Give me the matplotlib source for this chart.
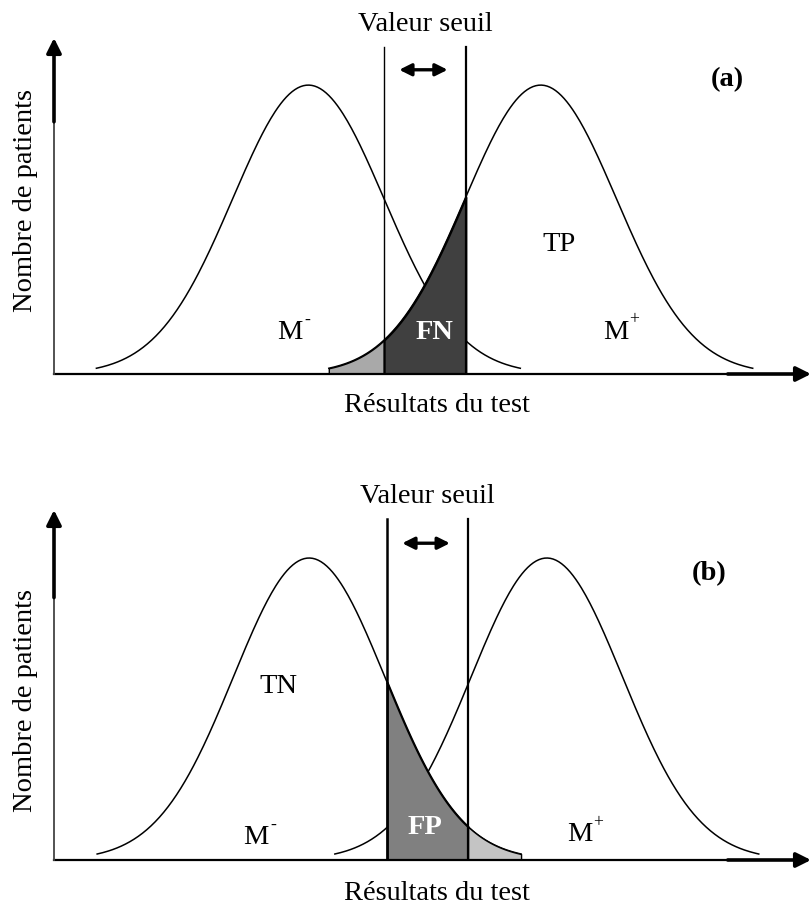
import numpy as np
import matplotlib
matplotlib.use("Agg")
from matplotlib import pyplot as plt

plt.rcParams['font.family'] = ['Liberation Serif', 'DejaVu Serif']

# test result scale (x: 0..10), curve peak = 1
sigma = 1.0
half_span = 2.8
means_a = [3.36, 6.43]          # M-, M+
means_b = [3.37, 6.51]
seuil_a = [4.36, 5.44]          # two threshold positions
seuil_b = [4.40, 5.47]
ytop_a = 1.163
ytop_b = 1.159

labels_a = ['M-', 'FN', 'TP', 'M+']
label_pos_a = [(3.12, 0.142), (5.03, 0.142), (6.67, 0.447), (7.42, 0.145)]
labels_b = ['TN', 'M-', 'FP', 'M+']
label_pos_b = [(2.97, 0.573), (2.67, 0.073), (4.90, 0.109), (6.94, 0.083)]

FS = 20.5


def gauss(x, mu):
    return np.exp(-(x - mu) ** 2 / (2 * sigma ** 2))


def draw_axes(ax, ytop):
    # x axis: thin then thick near the arrow
    ax.plot([0, 8.9], [0, 0], color='black', lw=1.6, clip_on=False, zorder=5)
    ax.annotate('', xy=(10.0, 0), xytext=(8.9, 0),
                arrowprops=dict(arrowstyle='-|>', color='black', lw=2.6,
                                mutation_scale=22, shrinkA=0, shrinkB=0),
                annotation_clip=False, zorder=5)
    # y axis
    ax.plot([0, 0], [0, ytop - 0.29], color='#444444', lw=1.3, clip_on=False, zorder=5)
    ax.annotate('', xy=(0, ytop), xytext=(0, ytop - 0.29),
                arrowprops=dict(arrowstyle='-|>', color='black', lw=2.6,
                                mutation_scale=22, shrinkA=0, shrinkB=0),
                annotation_clip=False, zorder=5)


def draw_common(ax, means, seuil, ytop, lw_left):
    for mu in means:
        x = np.linspace(mu - half_span, mu + half_span, 300)
        ax.plot(x, gauss(x, mu), color='black', lw=1.1, zorder=2)
    line_top = ytop - 0.031
    ax.plot([seuil[0], seuil[0]], [0, line_top], color='black', lw=lw_left, zorder=4)
    ax.plot([seuil[1], seuil[1]], [0, line_top], color='black', lw=1.6, zorder=4)
    ax.annotate('', xy=(seuil[0] + 0.2, ytop - 0.11), xytext=(seuil[1] - 0.24, ytop - 0.11),
                arrowprops=dict(arrowstyle='<|-|>', color='black', lw=2.4,
                                mutation_scale=18, shrinkA=0, shrinkB=0))
    ax.text(np.mean(seuil), ytop + 0.045, 'Valeur seuil', ha='center', va='center',
            fontsize=FS, clip_on=False)
    ax.text(5.06, -0.11, 'Résultats du test', ha='center', va='center', fontsize=FS,
            clip_on=False)
    ax.set_xlim(0, 10)
    ax.set_ylim(0, ytop)
    ax.axis('off')


def put_labels(ax, labels, positions):
    for t, (x, y) in zip(labels, positions):
        if t.startswith('F'):
            ax.text(x, y, t, ha='center', va='center', fontsize=FS,
                    color='white', fontweight='bold', zorder=6)
        elif t[-1] in '+-':
            ax.text(x, y, t[0], ha='center', va='center', fontsize=FS, zorder=6)
            ax.annotate(t[-1], xy=(x, y), xytext=(10, 9), textcoords='offset points',
                        ha='left', va='center', fontsize=FS * 0.62, zorder=6)
        else:
            ax.text(x, y, t, ha='center', va='center', fontsize=FS, zorder=6)


fig = plt.figure(figsize=(8.11, 9.07), dpi=100)

# ---- panel (a)
ax1 = fig.add_axes([54 / 811, 1 - 374 / 907, 757 / 811, 336 / 907])
draw_common(ax1, means_a, seuil_a, ytop_a, lw_left=1.0)
mu = means_a[1]
xl = np.linspace(mu - half_span, seuil_a[0], 100)
ax1.fill_between(xl, 0, gauss(xl, mu), facecolor='#a9a9a9', edgecolor='black', lw=1.0, zorder=3)
xd = np.linspace(seuil_a[0], seuil_a[1], 100)
ax1.fill_between(xd, 0, gauss(xd, mu), facecolor='#404040', edgecolor='black', lw=1.5, zorder=3)
draw_axes(ax1, ytop_a)
put_labels(ax1, labels_a, label_pos_a)
ax1.text(8.89, 1.018, '(a)', ha='center', va='center', fontsize=FS, fontweight='bold')
fig.text(26 / 811, 1 - 200 / 907, 'Nombre de patients', rotation=90, ha='center', va='center',
         fontsize=FS)

# ---- panel (b)
ax2 = fig.add_axes([54 / 811, 1 - 860 / 907, 757 / 811, 350 / 907])
draw_common(ax2, means_b, seuil_b, ytop_b, lw_left=1.8)
mu = means_b[0]
xd = np.linspace(seuil_b[0], seuil_b[1], 100)
ax2.fill_between(xd, 0, gauss(xd, mu), facecolor='#808080', edgecolor='black', lw=1.6, zorder=3)
xl = np.linspace(seuil_b[1], mu + half_span, 100)
ax2.fill_between(xl, 0, gauss(xl, mu), facecolor='#c4c4c4', edgecolor='black', lw=1.0, zorder=3)
draw_axes(ax2, ytop_b)
put_labels(ax2, labels_b, label_pos_b)
ax2.text(8.65, 0.950, '(b)', ha='center', va='center', fontsize=FS, fontweight='bold')
fig.text(26 / 811, 1 - 700 / 907, 'Nombre de patients', rotation=90, ha='center', va='center',
         fontsize=FS)

fig.savefig('out.png', dpi=100, facecolor='white')
